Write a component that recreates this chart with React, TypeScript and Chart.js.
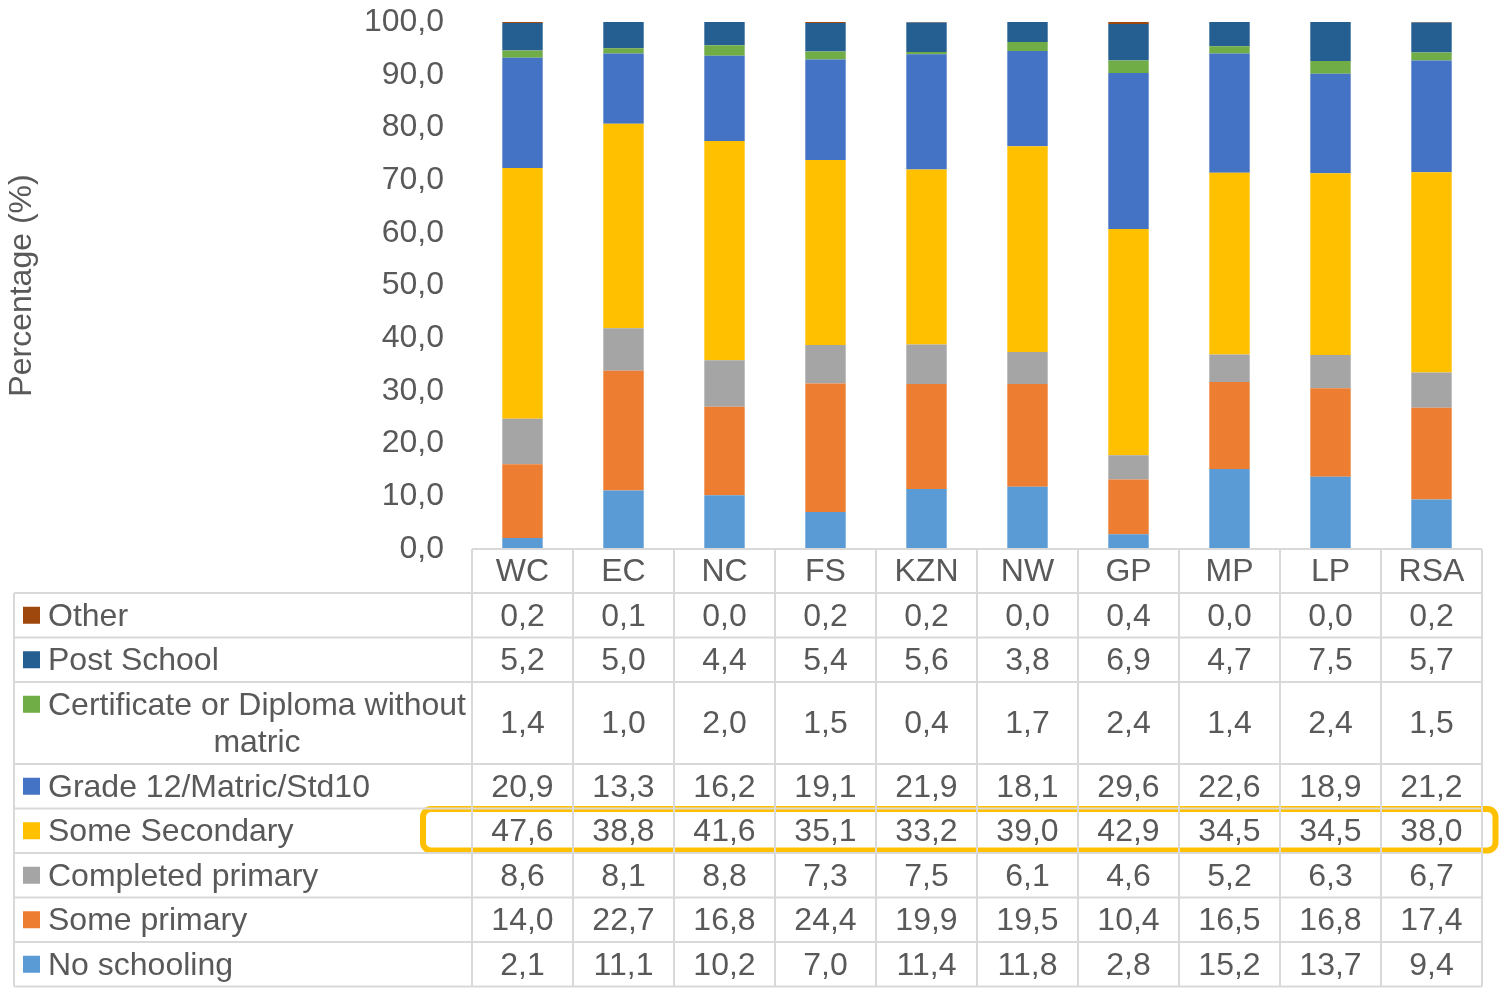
import React, { useEffect, useRef } from 'react';
import { Chart, registerables } from 'chart.js';

Chart.register(...registerables);

// ---------- data ----------
const CATEGORIES = ['WC', 'EC', 'NC', 'FS', 'KZN', 'NW', 'GP', 'MP', 'LP', 'RSA'];

const NO_SCHOOLING = [2.1, 11.1, 10.2, 7.0, 11.4, 11.8, 2.8, 15.2, 13.7, 9.4];
const SOME_PRIMARY = [14.0, 22.7, 16.8, 24.4, 19.9, 19.5, 10.4, 16.5, 16.8, 17.4];
const COMPLETED_PRIMARY = [8.6, 8.1, 8.8, 7.3, 7.5, 6.1, 4.6, 5.2, 6.3, 6.7];
const SOME_SECONDARY = [47.6, 38.8, 41.6, 35.1, 33.2, 39.0, 42.9, 34.5, 34.5, 38.0];
const GRADE_12 = [20.9, 13.3, 16.2, 19.1, 21.9, 18.1, 29.6, 22.6, 18.9, 21.2];
const CERTIFICATE = [1.4, 1.0, 2.0, 1.5, 0.4, 1.7, 2.4, 1.4, 2.4, 1.5];
const POST_SCHOOL = [5.2, 5.0, 4.4, 5.4, 5.6, 3.8, 6.9, 4.7, 7.5, 5.7];
const OTHER = [0.2, 0.1, 0.0, 0.2, 0.2, 0.0, 0.4, 0.0, 0.0, 0.2];

const SERIES_LABELS = [
  'No schooling',
  'Some primary',
  'Completed primary',
  'Some Secondary',
  'Grade 12/Matric/Std10',
  'Certificate or Diploma without matric',
  'Post School',
  'Other',
];
const SERIES_VALUES = [
  NO_SCHOOLING,
  SOME_PRIMARY,
  COMPLETED_PRIMARY,
  SOME_SECONDARY,
  GRADE_12,
  CERTIFICATE,
  POST_SCHOOL,
  OTHER,
];
const SERIES_COLORS = [
  '#5B9BD5',
  '#ED7D31',
  '#A5A5A5',
  '#FFC000',
  '#4472C4',
  '#70AD47',
  '#255E91',
  '#9E480E',
];
const HIGHLIGHT_SERIES = 'Some Secondary';
const Y_MIN = 0;
const Y_MAX = 100;
const Y_STEP = 10;
const Y_TITLE = 'Percentage (%)';

// ---------- style ----------
const FONT = '"Liberation Sans", Arial, sans-serif';
const FONT_SIZE = 32;
const TEXT_COLOR = '#595959';
const GRID_COLOR = '#D9D9D9';
const HIGHLIGHT_COLOR = '#FFC000';

const fmt = (v: number) => Number(v).toFixed(1).replace('.', ',');

function wrapText(ctx: CanvasRenderingContext2D, text: string, maxWidth: number): string[] {
  const words = text.split(' ');
  const lines: string[] = [];
  let cur = '';
  for (const w of words) {
    const test = cur ? cur + ' ' + w : w;
    if (cur && ctx.measureText(test).width > maxWidth) {
      lines.push(cur);
      cur = w;
    } else {
      cur = test;
    }
  }
  if (cur) lines.push(cur);
  return lines;
}

function roundRectPath(ctx: CanvasRenderingContext2D, x: number, y: number, w: number, h: number, r: number) {
  ctx.beginPath();
  ctx.moveTo(x + r, y);
  ctx.lineTo(x + w - r, y);
  ctx.arcTo(x + w, y, x + w, y + r, r);
  ctx.lineTo(x + w, y + h - r);
  ctx.arcTo(x + w, y + h, x + w - r, y + h, r);
  ctx.lineTo(x + r, y + h);
  ctx.arcTo(x, y + h, x, y + h - r, r);
  ctx.lineTo(x, y + r);
  ctx.arcTo(x, y, x + r, y, r);
  ctx.closePath();
}

const dataTablePlugin = {
  id: 'dataTable',
  afterDraw(chart: any) {
    const { ctx, chartArea: area, scales } = chart;
    const xs = scales.x;
    const n = CATEGORIES.length;
    const colW = xs.getPixelForValue(1) - xs.getPixelForValue(0);
    const edges: number[] = [];
    for (let i = 0; i <= n; i++) edges.push(xs.getPixelForValue(0) - colW / 2 + i * colW);

    const tableLeft = 14;
    const headerTop = area.bottom;
    const headerH = 44;
    const rowH = 44.5;
    const lineH = 37.5;
    const keySize = 17;
    const keyX = tableLeft + 9;
    const textX = tableLeft + 34;
    const textMax = edges[0] - textX - 1;
    const textDy = 1.5;

    ctx.save();
    ctx.font = `${FONT_SIZE}px ${FONT}`;
    ctx.textBaseline = 'middle';

    const datasets = [...chart.data.datasets].reverse();
    let y = headerTop + headerH;
    const rows = datasets.map((ds: any) => {
      const lines = wrapText(ctx, ds.label, textMax);
      const h = rowH + (lines.length - 1) * lineH;
      const g = { ds, lines, top: y, h };
      y += h;
      return g;
    });
    const tableBottom = y;

    // highlight box (behind grid lines)
    rows.forEach((g: any) => {
      if (g.ds.label === HIGHLIGHT_SERIES) {
        const left = edges[0] - 49;
        const right = edges[n] + 13.5;
        const top = g.top + 0.5;
        const bottom = g.top + g.h - 2.5;
        ctx.strokeStyle = HIGHLIGHT_COLOR;
        ctx.lineWidth = 6;
        roundRectPath(ctx, left, top, right - left, bottom - top, 8);
        ctx.stroke();
      }
    });

    // grid lines
    ctx.strokeStyle = GRID_COLOR;
    ctx.lineWidth = 2;
    ctx.beginPath();
    ctx.moveTo(edges[0], headerTop);
    ctx.lineTo(edges[n], headerTop);
    rows.forEach((g: any) => {
      ctx.moveTo(tableLeft, g.top);
      ctx.lineTo(edges[n], g.top);
    });
    ctx.moveTo(tableLeft, tableBottom);
    ctx.lineTo(edges[n], tableBottom);
    edges.forEach((e) => {
      ctx.moveTo(e, headerTop);
      ctx.lineTo(e, tableBottom);
    });
    ctx.moveTo(tableLeft, headerTop + headerH);
    ctx.lineTo(tableLeft, tableBottom);
    ctx.stroke();

    // header labels
    ctx.fillStyle = TEXT_COLOR;
    ctx.textAlign = 'center';
    CATEGORIES.forEach((c, i) => {
      ctx.fillText(c, xs.getPixelForValue(i), headerTop + headerH / 2 + textDy);
    });

    // rows
    rows.forEach((g: any) => {
      const firstY = g.top + rowH / 2;
      ctx.fillStyle = g.ds.backgroundColor;
      ctx.fillRect(keyX, firstY - keySize / 2, keySize, keySize);
      ctx.fillStyle = TEXT_COLOR;
      ctx.textAlign = 'left';
      ctx.fillText(g.lines[0], textX, firstY + textDy);
      const w0 = ctx.measureText(g.lines[0]).width;
      ctx.textAlign = 'center';
      for (let k = 1; k < g.lines.length; k++) {
        ctx.fillText(g.lines[k], textX + w0 / 2, firstY + k * lineH + textDy);
      }
      g.ds.data.forEach((v: number, i: number) => {
        ctx.fillText(fmt(v), xs.getPixelForValue(i), g.top + g.h / 2 + textDy);
      });
    });

    ctx.restore();
  },
};

export default function App() {
  const canvasRef = useRef<HTMLCanvasElement | null>(null);

  useEffect(() => {
    const canvas = canvasRef.current;
    if (!canvas) return;
    const chart = new Chart(canvas, {
      type: 'bar',
      data: {
        labels: CATEGORIES,
        datasets: SERIES_LABELS.map((label, i) => ({
          label,
          data: SERIES_VALUES[i],
          backgroundColor: SERIES_COLORS[i],
          borderWidth: 0,
          barPercentage: 0.4,
          categoryPercentage: 1.0,
        })),
      },
      options: {
        responsive: false,
        devicePixelRatio: 1,
        animation: false,
        layout: { padding: { top: 22, right: 17, bottom: 445, left: 0 } },
        plugins: {
          legend: { display: false },
          tooltip: { enabled: false },
        },
        scales: {
          x: { stacked: true, display: false },
          y: {
            stacked: true,
            min: Y_MIN,
            max: Y_MAX,
            grid: { display: false, drawTicks: false },
            border: { display: false },
            ticks: {
              stepSize: Y_STEP,
              padding: 28,
              color: TEXT_COLOR,
              font: { family: FONT, size: FONT_SIZE },
              callback: (v: any) => fmt(Number(v)),
            },
            title: {
              display: true,
              text: Y_TITLE,
              color: TEXT_COLOR,
              font: { family: FONT, size: FONT_SIZE },
              padding: { top: 3, bottom: 0 },
            },
            afterFit: (s: any) => {
              s.width = 472;
              s.paddingTop = 0;
              s.paddingBottom = 0;
            },
          },
        },
      },
      plugins: [dataTablePlugin],
    } as any);
    return () => chart.destroy();
  }, []);

  return (
    <canvas
      ref={canvasRef}
      width={1499}
      height={994}
      style={{ position: 'fixed', left: 0, top: 0, width: 1499, height: 994, background: '#fff' }}
    />
  );
}
